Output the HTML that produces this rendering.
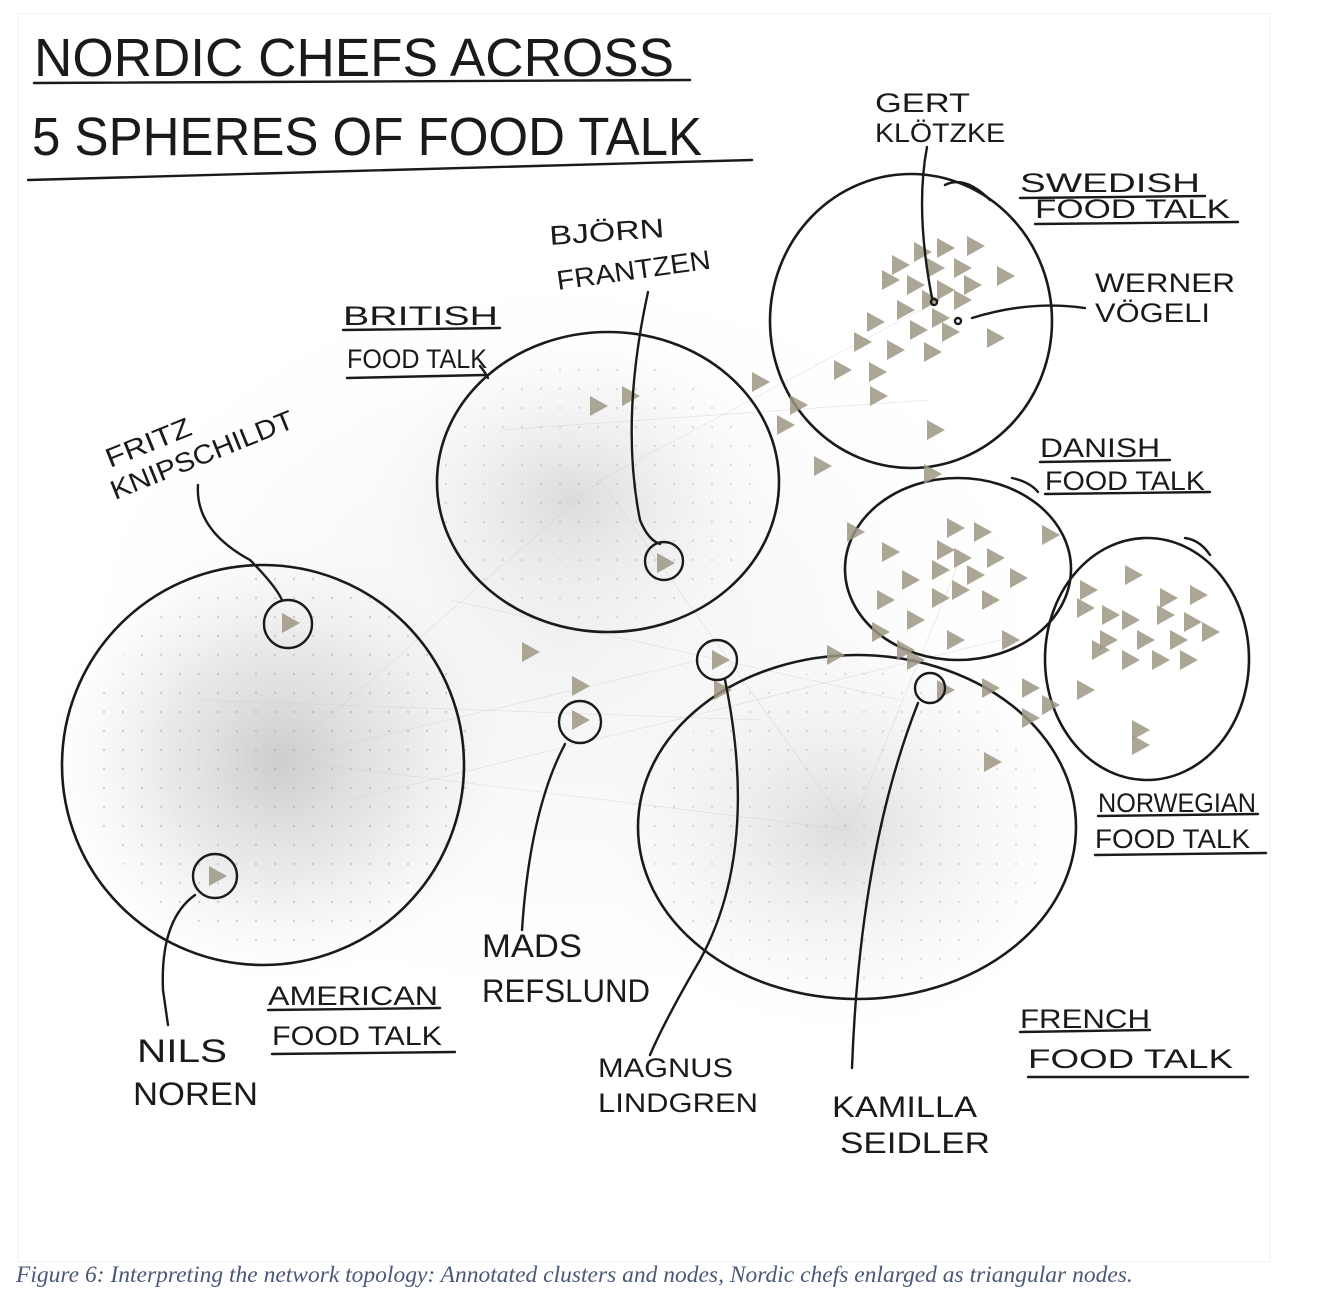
<!DOCTYPE html>
<html><head><meta charset="utf-8"><style>
html,body{margin:0;padding:0;background:#fff;}
body{width:1322px;height:1316px;position:relative;overflow:hidden;}
svg{position:absolute;left:0;top:0;}
.cap{position:absolute;left:16px;top:1262px;font-family:"Liberation Serif",serif;font-style:italic;font-size:23.5px;color:#4a5878;white-space:nowrap;}
</style></head><body>
<svg width="1322" height="1316" viewBox="0 0 1322 1316" xmlns="http://www.w3.org/2000/svg">
<defs>
<radialGradient id="ga"><stop offset="0" stop-color="#bdbdbd" stop-opacity=".75"/><stop offset=".5" stop-color="#d0d0d0" stop-opacity=".45"/><stop offset="1" stop-color="#e8e8e8" stop-opacity="0"/></radialGradient>
<radialGradient id="gb"><stop offset="0" stop-color="#c8c8c8" stop-opacity=".6"/><stop offset="1" stop-color="#eaeaea" stop-opacity="0"/></radialGradient>
<radialGradient id="gc"><stop offset="0" stop-color="#ececec" stop-opacity=".7"/><stop offset="1" stop-color="#f4f4f4" stop-opacity="0"/></radialGradient>
<pattern id="dots" width="19" height="19" patternUnits="userSpaceOnUse"><circle cx="9" cy="9" r="1.2" fill="#999"/></pattern>
<path id="t" d="M-8,-10 L10,0 L-8,10Z" fill="#9c9682" fill-opacity=".85"/>
</defs>
<rect x="18" y="14" width="1252" height="1248" fill="none" stroke="#f0f0f0"/>
<!-- haze -->
<ellipse cx="560" cy="640" rx="480" ry="360" fill="url(#gc)"/>
<ellipse cx="280" cy="760" rx="230" ry="220" fill="url(#ga)"/>
<ellipse cx="570" cy="500" rx="200" ry="160" fill="url(#gb)"/>
<ellipse cx="840" cy="830" rx="240" ry="200" fill="url(#gb)"/>
<ellipse cx="280" cy="760" rx="190" ry="185" fill="url(#dots)" opacity=".4"/>
<ellipse cx="600" cy="490" rx="160" ry="130" fill="url(#dots)" opacity=".3"/>
<ellipse cx="850" cy="830" rx="200" ry="160" fill="url(#dots)" opacity=".3"/>
<g stroke="#ccc" stroke-width=".6" opacity=".6">
<line x1="280" y1="760" x2="600" y2="480"/><line x1="280" y1="760" x2="850" y2="830"/><line x1="600" y1="480" x2="850" y2="830"/><line x1="600" y1="480" x2="920" y2="310"/><line x1="850" y1="830" x2="960" y2="560"/><line x1="280" y1="760" x2="700" y2="660"/><line x1="200" y1="700" x2="760" y2="720"/><line x1="350" y1="800" x2="1000" y2="640"/><line x1="500" y1="430" x2="930" y2="400"/><line x1="450" y1="600" x2="900" y2="700"/>
</g>
<!-- clusters -->
<g fill="none" stroke="#1a1a1a" stroke-width="2.6">
<ellipse cx="263" cy="765" rx="201" ry="200"/>
<ellipse cx="608" cy="482" rx="171" ry="150"/>
<ellipse cx="911" cy="321" rx="141" ry="147"/>
<ellipse cx="958" cy="569" rx="113" ry="91"/>
<ellipse cx="1147" cy="659" rx="102" ry="121"/>
<ellipse cx="857" cy="827" rx="219" ry="172"/>
</g>
<!-- triangles -->
<g>
<use href="#t" x="922" y="252"/><use href="#t" x="945" y="248"/><use href="#t" x="975" y="246"/><use href="#t" x="900" y="265"/><use href="#t" x="935" y="268"/><use href="#t" x="962" y="268"/><use href="#t" x="1005" y="276"/><use href="#t" x="890" y="280"/><use href="#t" x="915" y="285"/><use href="#t" x="945" y="290"/><use href="#t" x="972" y="285"/><use href="#t" x="930" y="300"/><use href="#t" x="962" y="300"/><use href="#t" x="905" y="310"/><use href="#t" x="940" y="318"/><use href="#t" x="875" y="322"/><use href="#t" x="918" y="330"/><use href="#t" x="950" y="332"/><use href="#t" x="995" y="338"/><use href="#t" x="862" y="342"/><use href="#t" x="895" y="350"/><use href="#t" x="932" y="352"/><use href="#t" x="842" y="370"/><use href="#t" x="877" y="372"/><use href="#t" x="760" y="382"/><use href="#t" x="878" y="396"/><use href="#t" x="798" y="405"/><use href="#t" x="935" y="430"/><use href="#t" x="785" y="425"/><use href="#t" x="822" y="466"/><use href="#t" x="932" y="474"/><use href="#t" x="598" y="406"/><use href="#t" x="630" y="396"/>
<use href="#t" x="955" y="528"/><use href="#t" x="982" y="532"/><use href="#t" x="855" y="532"/><use href="#t" x="1050" y="535"/><use href="#t" x="890" y="552"/><use href="#t" x="945" y="550"/><use href="#t" x="962" y="558"/><use href="#t" x="995" y="558"/><use href="#t" x="940" y="570"/><use href="#t" x="975" y="575"/><use href="#t" x="910" y="580"/><use href="#t" x="1018" y="578"/><use href="#t" x="885" y="600"/><use href="#t" x="940" y="598"/><use href="#t" x="960" y="590"/><use href="#t" x="990" y="600"/><use href="#t" x="915" y="620"/><use href="#t" x="880" y="632"/><use href="#t" x="1010" y="640"/><use href="#t" x="955" y="640"/><use href="#t" x="835" y="655"/><use href="#t" x="905" y="650"/><use href="#t" x="915" y="660"/>
<use href="#t" x="1133" y="575"/><use href="#t" x="1088" y="590"/><use href="#t" x="1168" y="598"/><use href="#t" x="1198" y="595"/><use href="#t" x="1085" y="608"/><use href="#t" x="1110" y="615"/><use href="#t" x="1130" y="620"/><use href="#t" x="1165" y="615"/><use href="#t" x="1192" y="622"/><use href="#t" x="1210" y="632"/><use href="#t" x="1108" y="640"/><use href="#t" x="1145" y="640"/><use href="#t" x="1178" y="640"/><use href="#t" x="1100" y="650"/><use href="#t" x="1130" y="660"/><use href="#t" x="1160" y="660"/><use href="#t" x="1188" y="660"/><use href="#t" x="1085" y="690"/><use href="#t" x="1140" y="730"/><use href="#t" x="1140" y="745"/>
<use href="#t" x="990" y="688"/><use href="#t" x="1030" y="688"/><use href="#t" x="1050" y="705"/><use href="#t" x="1030" y="718"/><use href="#t" x="992" y="762"/><use href="#t" x="945" y="690"/>
<use href="#t" x="530" y="652"/><use href="#t" x="580" y="686"/><use href="#t" x="580" y="720"/><use href="#t" x="665" y="563"/><use href="#t" x="290" y="623"/><use href="#t" x="217" y="876"/><use href="#t" x="720" y="660"/><use href="#t" x="722" y="690"/>
</g>
<!-- highlight circles -->
<g fill="none" stroke="#1a1a1a" stroke-width="2.4">
<circle cx="664" cy="561" r="19"/><circle cx="288" cy="624" r="24"/><circle cx="215" cy="876" r="22"/><circle cx="580" cy="722" r="21"/><circle cx="717" cy="660" r="20"/><circle cx="930" cy="688" r="15"/>
<circle cx="934" cy="302" r="3"/><circle cx="958" cy="321" r="3"/>
</g>
<!-- leader lines -->
<g fill="none" stroke="#1a1a1a" stroke-width="2.4" stroke-linecap="round">
<path d="M927,147 Q915,210 932,298"/>
<path d="M1085,308 Q1030,300 972,318"/>
<path d="M648,292 Q620,420 640,520 Q648,540 660,544"/>
<path d="M198,485 Q195,530 250,560 Q275,585 282,600"/>
<path d="M195,895 Q160,920 163,990 L168,1025"/>
<path d="M565,744 Q530,810 522,930"/>
<path d="M725,680 Q760,850 700,960 Q665,1020 650,1055"/>
<path d="M918,703 Q860,850 852,1068"/>
<path d="M945,185 Q965,175 990,200"/>
<path d="M1012,478 Q1030,482 1038,492"/>
<path d="M1185,538 Q1200,540 1210,555"/>
<path d="M480,366 Q485,372 488,378"/>
</g>
<!-- underlines -->
<g stroke="#1a1a1a" stroke-width="2.4" fill="none" stroke-linecap="round">
<path d="M34,83 L690,80"/><path d="M28,180 L752,160"/>
<path d="M1020,198 L1205,196"/><path d="M1035,224 L1238,222"/>
<path d="M343,330 L500,328"/><path d="M347,378 L485,375"/>
<path d="M1040,462 L1170,460"/><path d="M1045,494 L1210,492"/>
<path d="M1098,816 L1258,814"/><path d="M1095,855 L1266,853"/>
<path d="M268,1010 L440,1008"/><path d="M272,1054 L455,1052"/>
<path d="M1020,1032 L1150,1030"/><path d="M1028,1077 L1248,1077"/>
</g>
<!-- text -->
<g font-family="Liberation Sans, DejaVu Sans, sans-serif" fill="#1a1a1a" font-weight="normal">
<text x="34" y="76" font-size="54" textLength="640" lengthAdjust="spacingAndGlyphs">NORDIC CHEFS ACROSS</text>
<text x="32" y="155" font-size="54" textLength="670" lengthAdjust="spacingAndGlyphs">5 SPHERES OF FOOD TALK</text>
<g font-size="27">
<text x="875" y="112" textLength="95" lengthAdjust="spacingAndGlyphs">GERT</text>
<text x="875" y="142" textLength="130" lengthAdjust="spacingAndGlyphs">KLÖTZKE</text>
<text x="1020" y="192" textLength="180" lengthAdjust="spacingAndGlyphs">SWEDISH</text>
<text x="1035" y="218" textLength="195" lengthAdjust="spacingAndGlyphs">FOOD TALK</text>
<text x="1095" y="292" textLength="140" lengthAdjust="spacingAndGlyphs">WERNER</text>
<text x="1095" y="322" textLength="115" lengthAdjust="spacingAndGlyphs">VÖGELI</text>
<text x="550" y="245" textLength="115" lengthAdjust="spacingAndGlyphs" transform="rotate(-4 550 245)">BJÖRN</text>
<text x="558" y="290" textLength="155" lengthAdjust="spacingAndGlyphs" transform="rotate(-8 558 290)">FRANTZEN</text>
<text x="343" y="325" textLength="155" lengthAdjust="spacingAndGlyphs">BRITISH</text>
<text x="347" y="368" textLength="140" lengthAdjust="spacingAndGlyphs">FOOD TALK</text>
<text x="110" y="468" textLength="90" lengthAdjust="spacingAndGlyphs" transform="rotate(-22 110 468)">FRITZ</text>
<text x="115" y="500" textLength="195" lengthAdjust="spacingAndGlyphs" transform="rotate(-22 115 500)">KNIPSCHILDT</text>
<text x="1040" y="457" textLength="120" lengthAdjust="spacingAndGlyphs">DANISH</text>
<text x="1045" y="490" textLength="160" lengthAdjust="spacingAndGlyphs">FOOD TALK</text>
<text x="1098" y="812" textLength="158" lengthAdjust="spacingAndGlyphs">NORWEGIAN</text>
<text x="1095" y="848" textLength="155" lengthAdjust="spacingAndGlyphs">FOOD TALK</text>
<text x="268" y="1005" textLength="170" lengthAdjust="spacingAndGlyphs">AMERICAN</text>
<text x="272" y="1045" textLength="170" lengthAdjust="spacingAndGlyphs">FOOD TALK</text>
<text x="482" y="957" font-size="32" textLength="100" lengthAdjust="spacingAndGlyphs">MADS</text>
<text x="482" y="1002" font-size="32" textLength="168" lengthAdjust="spacingAndGlyphs">REFSLUND</text>
<text x="137" y="1062" font-size="32" textLength="90" lengthAdjust="spacingAndGlyphs">NILS</text>
<text x="133" y="1105" font-size="32" textLength="125" lengthAdjust="spacingAndGlyphs">NOREN</text>
<text x="598" y="1077" textLength="135" lengthAdjust="spacingAndGlyphs">MAGNUS</text>
<text x="598" y="1112" textLength="160" lengthAdjust="spacingAndGlyphs">LINDGREN</text>
<text x="832" y="1117" font-size="30" textLength="145" lengthAdjust="spacingAndGlyphs">KAMILLA</text>
<text x="840" y="1153" font-size="30" textLength="150" lengthAdjust="spacingAndGlyphs">SEIDLER</text>
<text x="1020" y="1028" textLength="130" lengthAdjust="spacingAndGlyphs">FRENCH</text>
<text x="1028" y="1068" textLength="205" lengthAdjust="spacingAndGlyphs">FOOD TALK</text>
</g>
</g>
</svg>
<div class="cap">Figure 6: Interpreting the network topology: Annotated clusters and nodes, Nordic chefs enlarged as triangular nodes.</div>
</body></html>
